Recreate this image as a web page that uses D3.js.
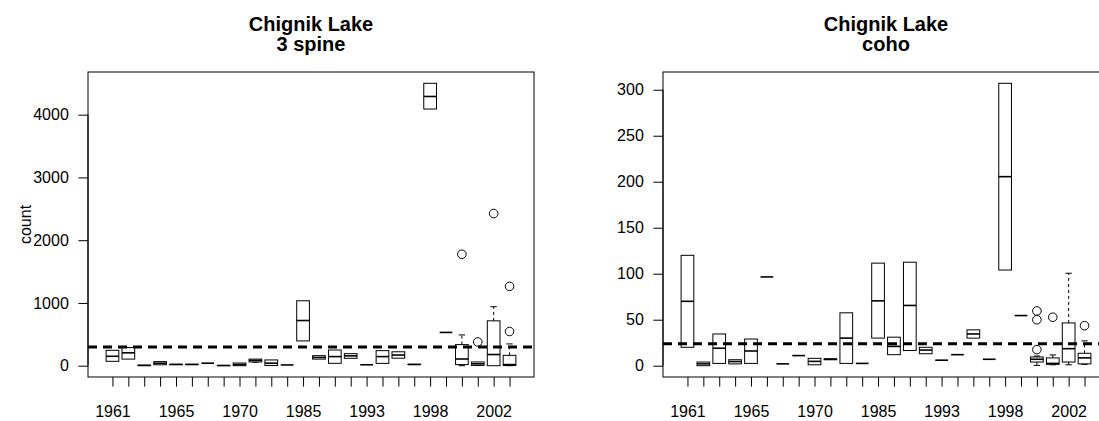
<!DOCTYPE html>
<html>
<head>
<meta charset="utf-8">
<script src="https://cdn.jsdelivr.net/npm/d3@7/dist/d3.min.js"></script>
<style>
  html, body { margin: 0; padding: 0; background: #fff; }
  svg { display: block; font-family: "Liberation Sans", Arial, Helvetica, sans-serif; }
</style>
</head>
<body>
<svg id="chart" width="1099" height="421"></svg>
<script>
// ---- categories and labels ----
const years = ["1961","1962","1963","1964","1965","1966","1967","1968","1970","1971","1972","1973",
               "1985","1986","1987","1988","1993","1994","1995","1996","1998","1999","2000","2001","2002","2003"];
const shownYears = ["1961","1965","1970","1985","1993","1998","2002"];

// ---- 3 spine (left panel) ----
const spineTitle = ["Chignik Lake", "3 spine"];
const spineLow  = [70,105,2,15,18,18,40,2,0,55,3,12,395,105,38,118,15,37,120,20,4090,530,0,2,0,0];
const spineQ1   = [70,105,2,15,18,18,40,2,0,60,3,12,395,105,38,118,15,37,120,18,4090,530,18,5,0,3];
const spineMed  = [150,205,5,40,20,20,40,3,18,85,40,12,720,132,145,157,15,145,170,20,4290,530,107,30,178,18];
const spineQ3   = [245,290,8,65,22,22,40,4,43,105,92,12,1035,160,250,192,15,240,222,22,4500,530,336,60,715,165];
const spineHigh = [245,290,8,65,22,22,40,4,43,105,92,12,1035,160,250,192,15,240,222,22,4500,530,490,60,940,347];
const spineOutIdx = [22, 23, 24, 25, 25];
const spineOutVal = [1776, 378, 2425, 545, 1264];
const spineRef = 300;
const spineYTicks = [0, 1000, 2000, 3000, 4000];

// ---- coho (right panel) ----
const cohoTitle = ["Chignik Lake", "coho"];
const cohoLow  = [20,0,2.5,2,2.5,96.5,2,11,1,6.5,2.5,2.5,30,12,16.5,13,6,12,30,7,104,54.5,0.3,1,1,1.5];
const cohoQ1   = [20,0,2.5,2,2.5,96.5,2,11,1,6.5,2.5,2.5,30,12,16.5,13,6,12,30,7,104,54.5,4,1.5,4,2];
const cohoMed  = [70,2,19,4.5,16,96.5,2,11,4.7,7,30,2.5,70.5,21,65.5,17,6,12,34.5,7,205.5,54.5,7,2.5,18.5,8.5];
const cohoQ3   = [120,4,34.5,6.5,29,96.5,2,11,8,7.5,57.5,2.5,111.5,31,112.5,20,6,12,39,7,307,54.5,9.5,8.5,46.5,13.5];
const cohoHigh = [120,4,34.5,6.5,29,96.5,2,11,8,7.5,57.5,2.5,111.5,31,112.5,20,6,12,39,7,307,54.5,10.5,11.7,100.5,27];
const cohoOutIdx = [22, 22, 22, 23, 25];
const cohoOutVal = [17.5, 50, 59.5, 52.7, 43.5];
const cohoRef = 24;
const cohoYTicks = [0, 50, 100, 150, 200, 250, 300];

const yLabel = "count";

const svg = d3.select("#chart");
const FS = 16;          // tick label font size
const TICK = 9.6;       // tick length

function panel(opt) {
  const { left, right, top, bottom } = opt;
  const g = svg.append("g");
  const n = years.length;
  // R style x range: 0.5..n+0.5 extended by 4%
  const xr = n;
  const x = d3.scaleLinear()
    .domain([0.5 - 0.04 * xr, n + 0.5 + 0.04 * xr])
    .range([left, right]);
  const allVals = opt.low.concat(opt.high, opt.outVal);
  const ymin = d3.min(allVals), ymax = d3.max(allVals);
  const yr = ymax - ymin;
  const y = d3.scaleLinear()
    .domain([ymin - 0.04 * yr, ymax + 0.04 * yr])
    .range([bottom, top]);

  const data = years.map((yr_, i) => ({
    i: i + 1, year: yr_, lo: opt.low[i], q1: opt.q1[i], med: opt.med[i], q3: opt.q3[i], hi: opt.high[i]
  }));
  const bw = 0.8 * (x(2) - x(1));      // box width
  const sw = 0.5 * bw;                   // staple width

  const clip = "clip" + opt.id;
  svg.append("clipPath").attr("id", clip)
    .append("rect").attr("x", left).attr("y", top).attr("width", right - left).attr("height", bottom - top);

  const plot = g.append("g").attr("clip-path", `url(#${clip})`);

  // whiskers (dashed)
  const wk = plot.append("g").attr("stroke", "#000").attr("stroke-width", 1).attr("stroke-dasharray", "3,3");
  wk.selectAll("line.up").data(data.filter(d => d.hi > d.q3)).join("line")
    .attr("x1", d => x(d.i)).attr("x2", d => x(d.i))
    .attr("y1", d => y(d.q3)).attr("y2", d => y(d.hi));
  wk.selectAll("line.dn").data(data.filter(d => d.lo < d.q1)).join("line")
    .attr("x1", d => x(d.i)).attr("x2", d => x(d.i))
    .attr("y1", d => y(d.q1)).attr("y2", d => y(d.lo));
  // staples
  const st = plot.append("g").attr("stroke", "#000").attr("stroke-width", 1);
  st.selectAll("line.su").data(data.filter(d => d.hi > d.q3)).join("line")
    .attr("x1", d => x(d.i) - sw / 2).attr("x2", d => x(d.i) + sw / 2)
    .attr("y1", d => y(d.hi)).attr("y2", d => y(d.hi));
  st.selectAll("line.sd").data(data.filter(d => d.lo < d.q1)).join("line")
    .attr("x1", d => x(d.i) - sw / 2).attr("x2", d => x(d.i) + sw / 2)
    .attr("y1", d => y(d.lo)).attr("y2", d => y(d.lo));

  // boxes
  plot.append("g").selectAll("rect").data(data).join("rect")
    .attr("x", d => x(d.i) - bw / 2).attr("width", bw)
    .attr("y", d => y(d.q3)).attr("height", d => Math.max(0, y(d.q1) - y(d.q3)))
    .attr("fill", "#fff").attr("stroke", "#000").attr("stroke-width", 1);
  // medians
  plot.append("g").selectAll("line").data(data).join("line")
    .attr("x1", d => x(d.i) - bw / 2).attr("x2", d => x(d.i) + bw / 2)
    .attr("y1", d => y(d.med)).attr("y2", d => y(d.med))
    .attr("stroke", "#000").attr("stroke-width", 1.6);

  // outliers
  const outs = opt.outIdx.map((k, j) => ({ i: k + 1, v: opt.outVal[j] }));
  plot.append("g").selectAll("circle").data(outs).join("circle")
    .attr("cx", d => x(d.i)).attr("cy", d => y(d.v)).attr("r", 4.3)
    .attr("fill", "none").attr("stroke", "#000").attr("stroke-width", 1);

  // reference dashed line
  plot.append("line")
    .attr("x1", left).attr("x2", right)
    .attr("y1", y(opt.ref)).attr("y2", y(opt.ref))
    .attr("stroke", "#000").attr("stroke-width", 3).attr("stroke-dasharray", "9,6");

  // frame
  g.append("rect").attr("x", left).attr("y", top).attr("width", right - left).attr("height", bottom - top)
    .attr("fill", "none").attr("stroke", "#000").attr("stroke-width", 1);

  // y axis
  const ya = d3.axisLeft(y).tickValues(opt.yTicks).tickSize(TICK).tickPadding(19.2 - TICK).tickFormat(d3.format("d"));
  const yg = g.append("g").attr("transform", `translate(${left},0)`).call(ya);
  yg.select(".domain").attr("d", `M${-0},${y(opt.yTicks[0])}V${y(opt.yTicks[opt.yTicks.length - 1])}`);
  yg.selectAll("text").attr("font-size", FS).attr("font-family", "Liberation Sans, Arial, sans-serif").attr("fill", "#000");
  yg.selectAll("line,path").attr("stroke", "#000");

  // x axis
  const xa = d3.axisBottom(x).tickValues(d3.range(1, n + 1)).tickSize(TICK)
    .tickFormat(v => shownYears.includes(years[v - 1]) ? years[v - 1] : "");
  const xg = g.append("g").attr("transform", `translate(0,${bottom})`).call(xa);
  xg.select(".domain").remove();
  xg.selectAll("text").attr("font-size", FS).attr("font-family", "Liberation Sans, Arial, sans-serif")
    .attr("fill", "#000").attr("dy", null).attr("y", 40);
  xg.selectAll("line").attr("stroke", "#000");

  // title
  const cx = (left + right) / 2;
  g.append("text").attr("x", cx).attr("y", 31).attr("text-anchor", "middle")
    .attr("font-size", 20).attr("font-weight", "bold").text(opt.title[0]);
  g.append("text").attr("x", cx).attr("y", 51).attr("text-anchor", "middle")
    .attr("font-size", 20).attr("font-weight", "bold").text(opt.title[1]);

  if (opt.ylab) {
    g.append("text").attr("transform", `translate(31,${(top + bottom) / 2}) rotate(-90)`)
      .attr("text-anchor", "middle").attr("font-size", FS).text(opt.ylab);
  }
}

panel({ id: "L", left: 88, right: 534, top: 72, bottom: 377,
  low: spineLow, q1: spineQ1, med: spineMed, q3: spineQ3, high: spineHigh,
  outIdx: spineOutIdx, outVal: spineOutVal, ref: spineRef, yTicks: spineYTicks,
  title: spineTitle, ylab: yLabel });

panel({ id: "R", left: 663, right: 1109, top: 72, bottom: 377,
  low: cohoLow, q1: cohoQ1, med: cohoMed, q3: cohoQ3, high: cohoHigh,
  outIdx: cohoOutIdx, outVal: cohoOutVal, ref: cohoRef, yTicks: cohoYTicks,
  title: cohoTitle, ylab: null });
</script>
</body>
</html>
